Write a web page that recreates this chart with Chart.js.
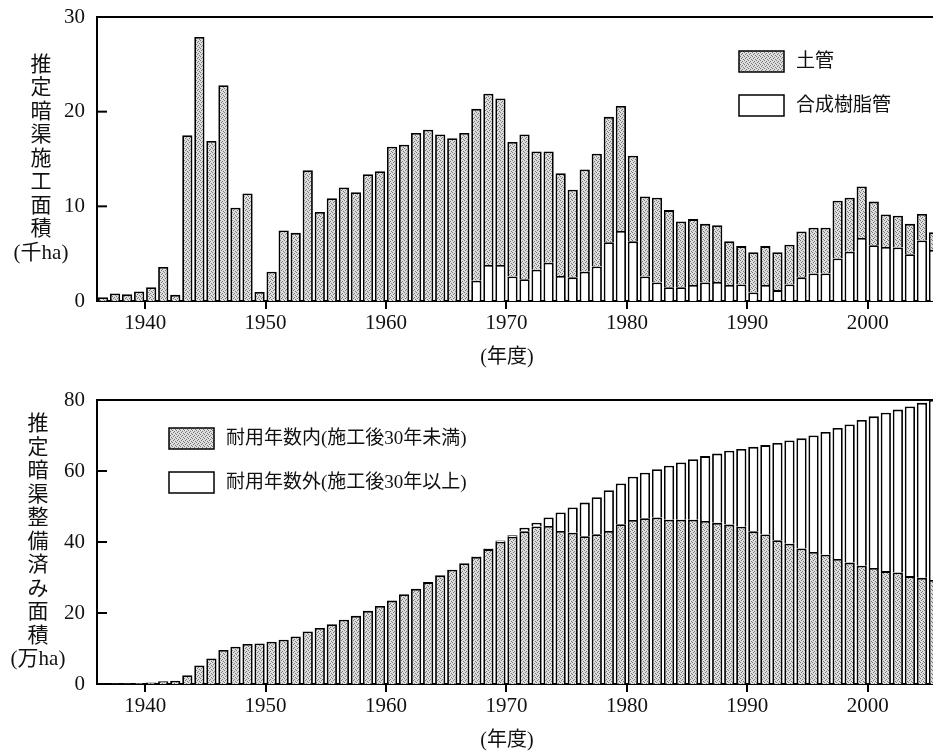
<!DOCTYPE html>
<html><head><meta charset="utf-8">
<script src="https://cdn.jsdelivr.net/npm/chart.js@4/dist/chart.umd.min.js"></script>
<style>
html,body{margin:0;padding:0;background:#fff;overflow:hidden;width:933px;height:755px;position:relative}
canvas{position:absolute;left:0}
#c1{top:0}
#c2{top:378px}
</style></head><body>
<canvas id="c1" width="945" height="378"></canvas>
<canvas id="c2" width="945" height="377"></canvas>
<script>
// ---- data ----
const years = [1936,1937,1938,1939,1940,1941,1942,1943,1944,1945,1946,1947,1948,1949,
  1950,1951,1952,1953,1954,1955,1956,1957,1958,1959,1960,1961,1962,1963,1964,1965,1966,1967,1968,1969,
  1970,1971,1972,1973,1974,1975,1976,1977,1978,1979,1980,1981,1982,1983,1984,1985,1986,1987,1988,1989,
  1990,1991,1992,1993,1994,1995,1996,1997,1998,1999,2000,2001,2002,2003,2004,2005];

// top panel: 推定暗渠施工面積 (千ha)
const clayPipe = [0.4,0.8,0.7,1.0,1.45,3.6,0.65,17.5,27.9,16.9,22.8,9.85,11.35,0.95,
  3.1,7.45,7.2,13.8,9.4,10.85,12.0,11.5,13.4,13.7,16.3,16.5,17.75,18.1,17.6,17.2,17.75,18.15,18.1,17.6,
  14.2,15.3,12.5,11.75,10.85,9.25,10.8,11.9,13.25,13.2,9.05,8.45,8.95,8.15,6.95,6.95,6.2,6.0,4.6,4.05,
  4.25,4.1,4.0,4.2,4.85,4.85,4.85,6.1,5.7,5.45,4.6,3.45,3.35,3.2,2.8,1.85];
const resinPipe = [0,0,0,0,0,0,0,0,0,0,0,0,0,0,
  0,0,0,0,0,0,0,0,0,0,0,0,0,0,0,0,0,2.15,3.8,3.8,
  2.6,2.3,3.3,4.05,2.65,2.5,3.1,3.65,6.2,7.4,6.3,2.6,1.95,1.45,1.45,1.7,1.95,2.0,1.7,1.75,
  0.9,1.7,1.15,1.75,2.5,2.9,2.9,4.5,5.2,6.65,5.9,5.7,5.65,4.95,6.4,5.4];

// bottom panel: 推定暗渠整備済み面積 (万ha)
const withinLife = [0.04,0.12,0.19,0.3,0.45,0.8,0.9,2.5,5.2,7.2,9.6,10.5,11.3,11.4,
  11.9,12.5,13.4,14.8,15.8,16.8,18.1,19.2,20.6,22.0,23.5,25.3,26.8,28.7,30.6,32.2,34.0,35.8,38.0,40.1,
  41.5,43.0,44.4,44.5,43.1,42.6,41.6,42.2,43.1,45.0,46.2,46.7,46.9,46.3,46.3,46.3,45.9,45.4,44.9,44.3,
  43.0,42.1,40.5,39.5,38.2,37.2,36.4,35.2,34.2,33.3,32.7,31.8,31.4,30.4,29.9,29.3];
const beyondLife = [0,0,0,0,0,0,0,0,0,0,0,0,0,0,
  0,0,0,0,0,0,0,0,0,0,0,0,0,0,0,0,0,0.1,0.2,0.3,
  0.4,1.0,1.0,2.4,5.2,7.1,9.5,10.4,11.5,11.5,12.2,12.8,13.6,15.2,16.1,17.0,18.3,19.5,20.8,21.9,
  23.8,25.2,27.4,29.1,31.0,32.8,34.6,36.9,38.9,41.1,42.7,44.6,45.9,47.8,49.3,50.7];

const xTickYears = [1940,1950,1960,1970,1980,1990,2000];
const topYTicks = [0,10,20,30];
const bottomYTicks = [0,20,40,60,80];
const xRange = [1936, 2006];

const topLabels = ['土管','合成樹脂管'];
const bottomLabels = ['耐用年数内(施工後30年未満)','耐用年数外(施工後30年以上)'];
const topYTitle = ['推','定','暗','渠','施','工','面','積','(千ha)'];
const bottomYTitle = ['推','定','暗','渠','整','備','済','み','面','積','(万ha)'];
const xTitle = '(年度)';

// ---- styling ----
const FONT = '"Liberation Serif", "Noto Sans CJK JP", serif';
function stipple(){
  const c = document.createElement('canvas'); c.width = 4; c.height = 4;
  const g = c.getContext('2d');
  g.fillStyle = '#dedede'; g.fillRect(0,0,4,4);
  g.fillStyle = '#777777';
  [[0,0],[2,1],[1,2],[3,3]].forEach(p => g.fillRect(p[0],p[1],1,1));
  return document.createElement('canvas').getContext('2d').createPattern(c,'repeat');
}
const GRAY = stipple();

const decor = {
  id: 'decor',
  afterDraw(chart, args, o){
    const ctx = chart.ctx, a = chart.chartArea, ys = chart.scales.y;
    ctx.save();
    ctx.strokeStyle = '#000'; ctx.lineWidth = 2;
    // top frame
    ctx.beginPath(); ctx.moveTo(a.left - 1, a.top); ctx.lineTo(a.right, a.top); ctx.stroke();
    // inward y ticks
    ys.ticks.forEach(t => {
      if (t.value > ys.min && t.value < ys.max) {
        const py = ys.getPixelForValue(t.value);
        ctx.beginPath(); ctx.moveTo(a.left, py); ctx.lineTo(a.left + 10, py); ctx.stroke();
      }
    });
    // y title, vertical
    ctx.fillStyle = '#111'; ctx.textAlign = 'center'; ctx.textBaseline = 'middle';
    ctx.font = '21px ' + FONT;
    const n = o.yTitle.length, mid = (a.top + a.bottom) / 2;
    o.yTitle.forEach((s, i) => {
      ctx.fillText(s, o.yTitleX, mid + (i - (n - 1) / 2) * 23.5);
    });
    // x title
    ctx.font = '20px ' + FONT;
    ctx.fillText(xTitle, a.left + 410, a.bottom + 57);
    // legend
    ctx.font = o.legendFont + 'px ' + FONT; ctx.textAlign = 'left';
    chart.data.datasets.slice().sort((p, q) => p.legendOrder - q.legendOrder).forEach((ds, i) => {
      const bx = a.left + o.legendX, by = a.top + o.legendY + i * o.legendGap;
      ctx.fillStyle = ds.backgroundColor; ctx.fillRect(bx, by, 45, 21);
      ctx.lineWidth = 1.5; ctx.strokeStyle = '#000'; ctx.strokeRect(bx, by, 45, 21);
      ctx.fillStyle = '#111'; ctx.fillText(ds.label, bx + 57, by + 11);
    });
    ctx.restore();
  }
};

function makeChart(id, datasets, yTicks, padTop, xHeight, deco){
  return new Chart(document.getElementById(id), {
    type: 'bar',
    data: { datasets },
    plugins: [decor],
    options: {
      responsive: false, animation: false,
      layout: { padding: { top: padTop, left: 0, right: 5, bottom: 0 } },
      plugins: { legend: { display: false }, tooltip: { enabled: false }, decor: deco },
      datasets: { bar: { barPercentage: 0.85, categoryPercentage: 1, borderColor: '#000', borderWidth: 1.8 } },
      scales: {
        x: {
          type: 'linear', stacked: true, min: xRange[0], max: xRange[1], offset: false,
          afterBuildTicks: s => { s.ticks = xTickYears.map(v => ({ value: v })); },
          afterFit: s => { s.height = xHeight; },
          grid: { display: true, offset: false, drawOnChartArea: false, drawTicks: true, tickLength: 8, color: '#000', lineWidth: 2 },
          border: { display: true, color: '#000', width: 2 },
          ticks: { color: '#111', font: { family: FONT, size: 21 }, padding: 2, maxRotation: 0,
                   callback: v => String(v) }
        },
        y: {
          stacked: true, min: yTicks[0], max: yTicks[yTicks.length - 1],
          afterBuildTicks: s => { s.ticks = yTicks.map(v => ({ value: v })); },
          afterFit: s => { s.width = 97; s.paddingTop = 0; s.paddingBottom = 0; },
          grid: { display: false, drawTicks: false },
          border: { display: true, color: '#000', width: 2 },
          ticks: { color: '#111', font: { family: FONT, size: 21 }, padding: 12, callback: v => String(v) }
        }
      }
    }
  });
}

const pts = arr => arr.map((v, i) => ({ x: years[i] + 0.5, y: v }));

makeChart('c1', [
  { label: topLabels[1], data: pts(resinPipe), backgroundColor: '#ffffff', legendOrder: 1 },
  { label: topLabels[0], data: pts(clayPipe), backgroundColor: GRAY, legendOrder: 0 }
], topYTicks, 17, 77, { yTitle: topYTitle, yTitleX: 41, legendX: 642, legendY: 34, legendGap: 44, legendFont: 19 });

makeChart('c2', [
  { label: bottomLabels[0], data: pts(withinLife), backgroundColor: GRAY, legendOrder: 0 },
  { label: bottomLabels[1], data: pts(beyondLife), backgroundColor: '#ffffff', legendOrder: 1 }
], bottomYTicks, 22, 71, { yTitle: bottomYTitle, yTitleX: 38, legendX: 72, legendY: 28, legendGap: 44, legendFont: 19 });
</script>
</body></html>
